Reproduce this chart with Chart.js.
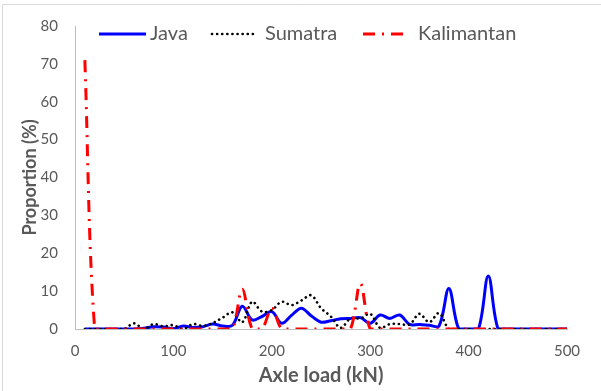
<!DOCTYPE html>
<html><head><meta charset="utf-8">
<script src="https://cdn.jsdelivr.net/npm/chart.js@4/dist/chart.umd.min.js"></script>
<style>html,body{margin:0;padding:0;background:#fff}#wrap{width:601px;height:391px;position:relative}</style>
</head><body><div id="wrap"><canvas id="c" width="601" height="391"></canvas></div>
<script>
const loads = [10,20,30,40,50,60,70,80,90,100,110,120,130,140,150,160,170,180,190,200,210,220,230,240,250,260,270,280,290,300,310,320,330,340,350,360,370,380,390,400,410,420,430,440,450,460,470,480,490,500];
const java = [0,0,0,0,0,0,0.2,0.6,0.5,0.1,0.8,0.4,0.6,1.3,0.8,1.0,6.0,2.4,3.3,4.6,1.5,3.6,5.5,3.5,1.8,2.2,2.7,2.8,3.0,1.5,3.7,2.8,3.7,1.2,1.2,1.0,0.8,10.7,0,0,0,14.0,0,0,0,0,0,0,0,0];
const sumatra = [0,0,0,0,0,1.5,0,1.3,0.7,1.0,0,1.3,0.8,1.6,3.0,4.4,1.8,7.2,4.6,5.0,7.2,6.3,7.5,8.9,5.5,3.3,0.3,2.8,2.8,4.0,0.3,1.3,1.3,1.2,4.0,1.8,4.2,0,0,0,0,0,0,0,0,0,0,0,0,0];
const kalimantan = [71,0,0,0,0,0,0,0,0,0,0,0,0,0,0,0,10.5,0,0,5.5,0,0,0,0,0,0,0,0,12,0,0,0,0,0,0,0,0,0,0,0,0,0,0,0,0,0,0,0,0,0];
const seriesNames = ['Java','Sumatra','Kalimantan'];
const xTickValues = [0,100,200,300,400,500];
const yTickValues = [0,10,20,30,40,50,60,70,80];

const FONT = 'Lato';
const TXT = '#595959';
const pts = arr => loads.map((x,i)=>({x:x,y:arr[i]}));

const legendPos = [[99,146,150],[212,255,265],[363,403,418]];
const customLegend = {
  id:'customLegend',
  afterDraw(chart){
    const ctx = chart.ctx;
    ctx.save();
    ctx.strokeStyle = '#d9d9d9'; ctx.lineWidth = 1;
    ctx.beginPath(); ctx.moveTo(2.5, 400); ctx.lineTo(2.5, 4.5); ctx.lineTo(610, 4.5); ctx.stroke();
    const y = 34;
    chart.data.datasets.forEach((ds,i)=>{
      const p = legendPos[i];
      ctx.strokeStyle = ds.borderColor; ctx.lineWidth = ds.borderWidth;
      ctx.lineCap = ds.borderCapStyle || 'butt';
      ctx.setLineDash(ds.borderDash || []);
      ctx.beginPath(); ctx.moveTo(p[0], y); ctx.lineTo(p[1], y); ctx.stroke();
      ctx.setLineDash([]);
      ctx.fillStyle = TXT; ctx.font = '20px ' + FONT; ctx.textBaseline = 'middle'; ctx.textAlign='left';
      ctx.fillText(ds.label, p[2], y);
    });
    ctx.restore();
  }
};

new Chart(document.getElementById('c'), {
  type:'line',
  data:{datasets:[
    {label:seriesNames[0], data:pts(java), borderColor:'#0000ff', borderWidth:3, pointRadius:0, tension:0.35, fill:false, order:2},
    {label:seriesNames[1], data:pts(sumatra), borderColor:'#000000', borderWidth:2.6, borderDash:[0.1,5], borderCapStyle:'round', pointRadius:0, tension:0.35, fill:false, order:1},
    {label:seriesNames[2], data:pts(kalimantan), borderColor:'#ff0000', borderWidth:3, borderDash:[12,7,2,7], pointRadius:0, tension:0.35, fill:false, order:0}
  ]},
  options:{
    responsive:false, animation:false,
    layout:{padding:{left:0,right:34,top:25,bottom:0}},
    plugins:{legend:{display:false}, tooltip:{enabled:false}},
    scales:{
      x:{type:'linear', min:0, max:500,
        afterBuildTicks(s){ s.ticks = xTickValues.map(v=>({value:v})); },
        afterFit(s){ s.height = 62; },
        grid:{display:false, drawTicks:false},
        border:{display:true, color:'#bfbfbf', width:1},
        ticks:{padding:13, color:TXT, font:{family:FONT, size:15}, maxRotation:0},
        title:{display:true, text:'Axle load (kN)', color:TXT, font:{family:FONT, size:20, weight:'bold'}, padding:{top:0,bottom:3}}
      },
      y:{min:0, max:80,
        afterBuildTicks(s){ s.ticks = yTickValues.map(v=>({value:v})); },
        afterFit(s){ s.width = 75; },
        grid:{display:false, drawTicks:false},
        border:{display:true, color:'#bfbfbf', width:1},
        ticks:{padding:17, color:TXT, font:{family:FONT, size:15}},
        title:{display:true, text:'Proportion (%)', color:TXT, font:{family:FONT, size:18, weight:'bold'}, padding:{top:19,bottom:0}}
      }
    }
  },
  plugins:[customLegend]
});
</script></body></html>
